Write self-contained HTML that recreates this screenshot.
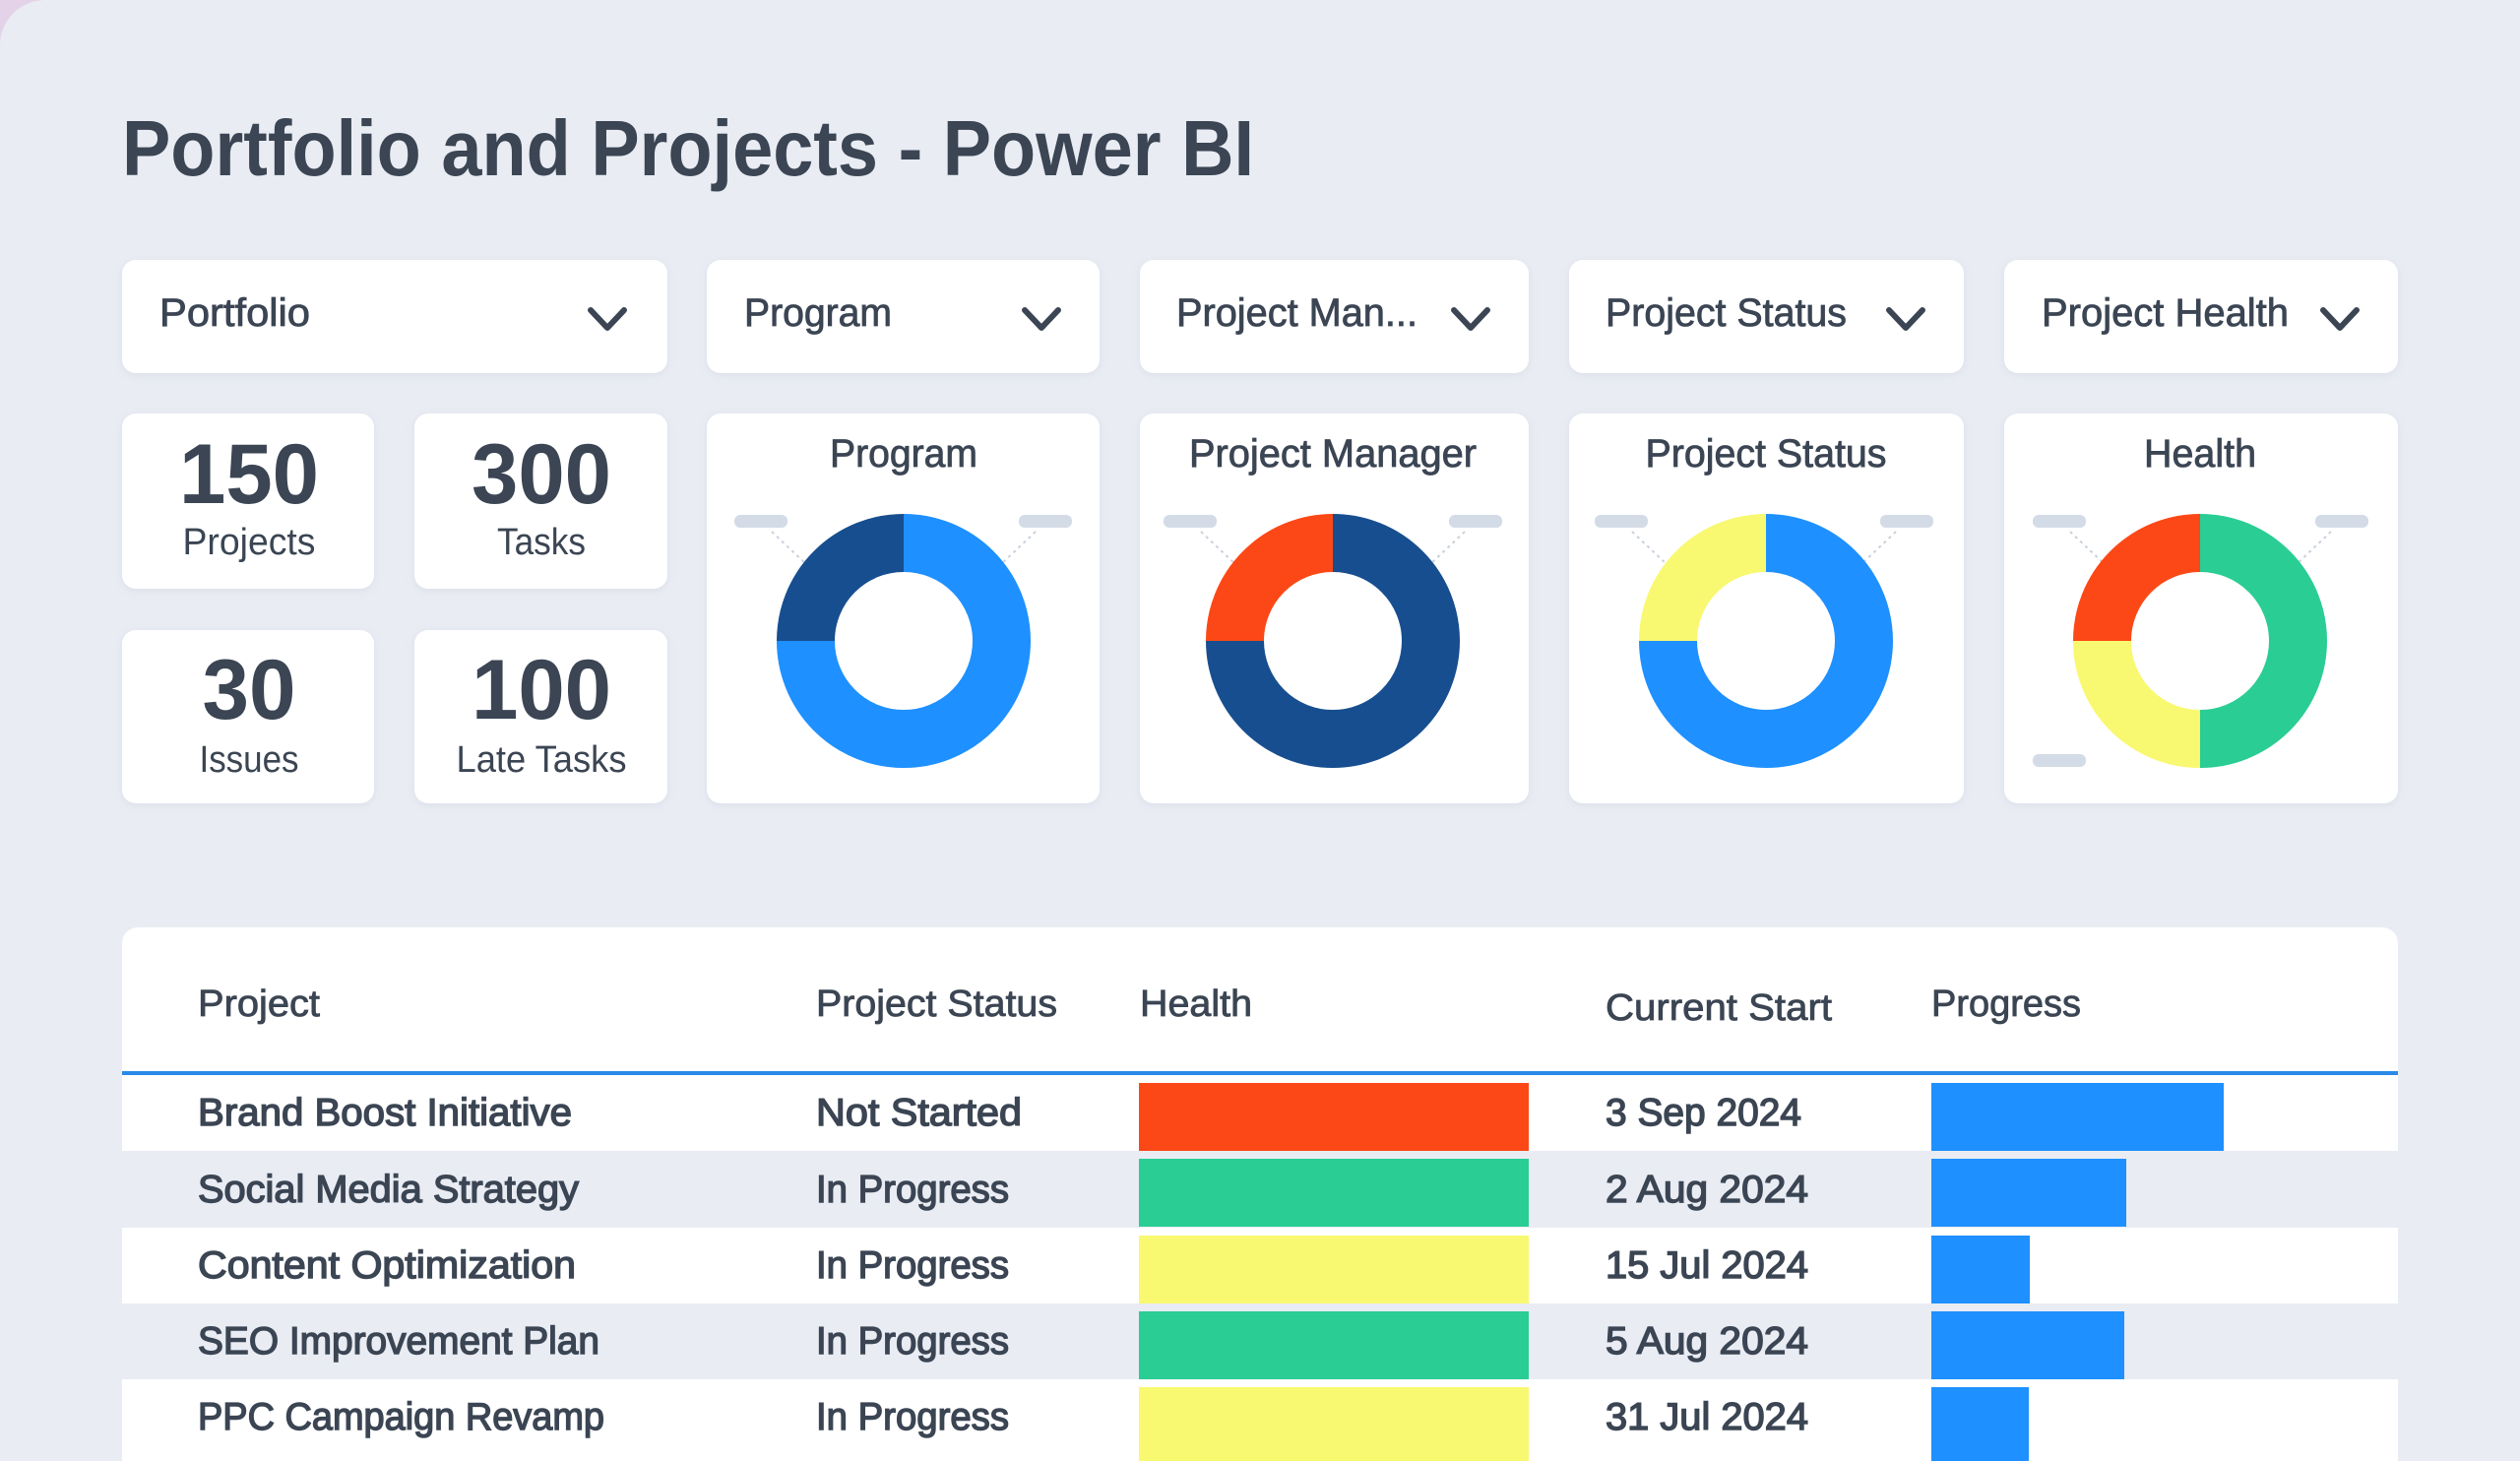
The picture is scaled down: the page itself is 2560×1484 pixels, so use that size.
<!DOCTYPE html>
<html><head><meta charset="utf-8"><style>
html,body{margin:0;padding:0;background:#e9ecf3;}
svg{display:block;}
text{font-family:"Liberation Sans",sans-serif;fill:#3b4553;}
.b{font-weight:bold;}
.m{stroke:#3b4553;stroke-width:0.8px;}
</style></head><body>
<svg width="2560" height="1484" viewBox="0 0 2560 1484" xmlns="http://www.w3.org/2000/svg">
<defs>
<filter id="sh" x="-5%" y="-5%" width="110%" height="115%"><feDropShadow dx="0" dy="2" stdDeviation="4" flood-color="#9aa6b8" flood-opacity="0.18"/></filter>
</defs>
<rect width="2560" height="1484" fill="#e4d3e8"/>
<path d="M0 46 A46 46 0 0 1 46 0 L2560 0 L2560 1484 L0 1484 Z" fill="#e9ecf3"/>

<text x="124" y="178" font-size="80" class="b" textLength="1150" lengthAdjust="spacingAndGlyphs">Portfolio and Projects - Power BI</text>

<g filter="url(#sh)" fill="#fff">
<rect x="124" y="264" width="554" height="115" rx="14"/>
<rect x="718" y="264" width="399" height="115" rx="14"/>
<rect x="1158" y="264" width="395" height="115" rx="14"/>
<rect x="1594" y="264" width="401" height="115" rx="14"/>
<rect x="2036" y="264" width="400" height="115" rx="14"/>
</g>
<g font-size="40" class="m">
<text x="162" y="331" textLength="153" lengthAdjust="spacingAndGlyphs">Portfolio</text>
<text x="756" y="331" textLength="150" lengthAdjust="spacingAndGlyphs">Program</text>
<text x="1195" y="331" textLength="245" lengthAdjust="spacingAndGlyphs">Project Man...</text>
<text x="1631" y="331" textLength="245" lengthAdjust="spacingAndGlyphs">Project Status</text>
<text x="2074" y="331" textLength="251" lengthAdjust="spacingAndGlyphs">Project Health</text>
</g>
<g fill="none" stroke="#3b4553" stroke-width="6" stroke-linecap="round" stroke-linejoin="round">
<path d="M600 315 L617 333 L634 315"/>
<path d="M1041 315 L1058 333 L1075 315"/>
<path d="M1477 315 L1494 333 L1511 315"/>
<path d="M1919 315 L1936 333 L1953 315"/>
<path d="M2360 315 L2377 333 L2394 315"/>
</g>

<g filter="url(#sh)" fill="#fff">
<rect x="124" y="420" width="256" height="178" rx="14"/>
<rect x="421" y="420" width="257" height="178" rx="14"/>
<rect x="124" y="640" width="256" height="176" rx="14"/>
<rect x="421" y="640" width="257" height="176" rx="14"/>
</g>
<g class="b" font-size="86" text-anchor="middle">
<text x="253" y="511" textLength="142" lengthAdjust="spacingAndGlyphs">150</text>
<text x="550" y="511" textLength="142" lengthAdjust="spacingAndGlyphs">300</text>
<text x="253" y="730" textLength="95" lengthAdjust="spacingAndGlyphs">30</text>
<text x="550" y="730" textLength="142" lengthAdjust="spacingAndGlyphs">100</text>
</g>
<g font-size="38" text-anchor="middle">
<text x="253" y="563" textLength="135" lengthAdjust="spacingAndGlyphs">Projects</text>
<text x="550" y="563" textLength="90" lengthAdjust="spacingAndGlyphs">Tasks</text>
<text x="253" y="784" textLength="101" lengthAdjust="spacingAndGlyphs">Issues</text>
<text x="550" y="784" textLength="173" lengthAdjust="spacingAndGlyphs">Late Tasks</text>
</g>

<g filter="url(#sh)" fill="#fff">
<rect x="718" y="420" width="399" height="396" rx="14"/>
<rect x="1158" y="420" width="395" height="396" rx="14"/>
<rect x="1594" y="420" width="401" height="396" rx="14"/>
<rect x="2036" y="420" width="400" height="396" rx="14"/>
</g>
<g font-size="40" text-anchor="middle" class="m">
<text x="918" y="474" textLength="150" lengthAdjust="spacingAndGlyphs">Program</text>
<text x="1354" y="474" textLength="292" lengthAdjust="spacingAndGlyphs">Project Manager</text>
<text x="1794" y="474" textLength="245" lengthAdjust="spacingAndGlyphs">Project Status</text>
<text x="2235" y="474" textLength="114" lengthAdjust="spacingAndGlyphs">Health</text>
</g>

<g fill="#d3dbe6">
<rect x="746" y="523" width="54" height="13" rx="6"/><rect x="1035" y="523" width="54" height="13" rx="6"/>
<rect x="1182" y="523" width="54" height="13" rx="6"/><rect x="1472" y="523" width="54" height="13" rx="6"/>
<rect x="1620" y="523" width="54" height="13" rx="6"/><rect x="1910" y="523" width="54" height="13" rx="6"/>
<rect x="2065" y="523" width="54" height="13" rx="6"/><rect x="2352" y="523" width="54" height="13" rx="6"/>
<rect x="2065" y="766" width="54" height="13" rx="6"/>
</g>
<g stroke="#c9d1dc" stroke-width="2" stroke-dasharray="3 4" fill="none">
<path d="M784 540 L820 574"/><path d="M1052 540 L1016 574"/>
<path d="M1220 540 L1256 574"/><path d="M1488 540 L1452 574"/>
<path d="M1658 540 L1694 574"/><path d="M1926 540 L1890 574"/>
<path d="M2103 540 L2139 574"/><path d="M2368 540 L2332 574"/>
</g>

<g fill="none" stroke-width="59">
<path d="M918 551.5 A99.5 99.5 0 1 1 818.5 651" stroke="#1e90ff"/>
<path d="M818.5 651 A99.5 99.5 0 0 1 918 551.5" stroke="#174e8f"/>
<path d="M1354 551.5 A99.5 99.5 0 1 1 1254.5 651" stroke="#174e8f"/>
<path d="M1254.5 651 A99.5 99.5 0 0 1 1354 551.5" stroke="#fc4816"/>
<path d="M1794 551.5 A99.5 99.5 0 1 1 1694.5 651" stroke="#1e90ff"/>
<path d="M1694.5 651 A99.5 99.5 0 0 1 1794 551.5" stroke="#f9f871"/>
<path d="M2235 551.5 A99.5 99.5 0 0 1 2235 750.5" stroke="#2acd94"/>
<path d="M2235 750.5 A99.5 99.5 0 0 1 2135.5 651" stroke="#f9f871"/>
<path d="M2135.5 651 A99.5 99.5 0 0 1 2235 551.5" stroke="#fc4816"/>
</g>

<path d="M124 958 A16 16 0 0 1 140 942 L2420 942 A16 16 0 0 1 2436 958 L2436 1484 L124 1484 Z" fill="#fff"/>
<rect x="124" y="1169" width="2312" height="78" fill="#e9ecf3"/>
<rect x="124" y="1324" width="2312" height="77" fill="#e9ecf3"/>
<rect x="124" y="1088" width="2312" height="4" fill="#2a8ae8"/>
<g font-size="38" class="m">
<text x="201" y="1032" textLength="124" lengthAdjust="spacingAndGlyphs">Project</text>
<text x="829" y="1032" textLength="245" lengthAdjust="spacingAndGlyphs">Project Status</text>
<text x="1158" y="1032" textLength="114" lengthAdjust="spacingAndGlyphs">Health</text>
<text x="1631" y="1036" textLength="230" lengthAdjust="spacingAndGlyphs">Current Start</text>
<text x="1962" y="1032" textLength="152" lengthAdjust="spacingAndGlyphs">Progress</text>
</g>
<rect x="1157" y="1100" width="396" height="69" fill="#fc4816"/>
<rect x="1157" y="1177" width="396" height="69" fill="#2acd94"/>
<rect x="1157" y="1255" width="396" height="69" fill="#f9f871"/>
<rect x="1157" y="1332" width="396" height="69" fill="#2acd94"/>
<rect x="1157" y="1409" width="396" height="75" fill="#f9f871"/>
<g fill="#1e90ff">
<rect x="1962" y="1100" width="297" height="69"/>
<rect x="1962" y="1177" width="198" height="69"/>
<rect x="1962" y="1255" width="100" height="69"/>
<rect x="1962" y="1332" width="196" height="69"/>
<rect x="1962" y="1409" width="99" height="75"/>
</g>
<g font-size="39" class="m" style="stroke-width:1.4px">
<text x="201" y="1143" textLength="380" lengthAdjust="spacingAndGlyphs">Brand Boost Initiative</text>
<text x="829" y="1143" textLength="209" lengthAdjust="spacingAndGlyphs">Not Started</text>
<text x="1631" y="1143" textLength="199" lengthAdjust="spacingAndGlyphs">3 Sep 2024</text>
<text x="201" y="1221" textLength="387" lengthAdjust="spacingAndGlyphs">Social Media Strategy</text>
<text x="829" y="1221" textLength="196" lengthAdjust="spacingAndGlyphs">In Progress</text>
<text x="1631" y="1221" textLength="206" lengthAdjust="spacingAndGlyphs">2 Aug 2024</text>
<text x="201" y="1298" textLength="384" lengthAdjust="spacingAndGlyphs">Content Optimization</text>
<text x="829" y="1298" textLength="196" lengthAdjust="spacingAndGlyphs">In Progress</text>
<text x="1631" y="1298" textLength="206" lengthAdjust="spacingAndGlyphs">15 Jul 2024</text>
<text x="201" y="1375" textLength="408" lengthAdjust="spacingAndGlyphs">SEO Improvement Plan</text>
<text x="829" y="1375" textLength="196" lengthAdjust="spacingAndGlyphs">In Progress</text>
<text x="1631" y="1375" textLength="206" lengthAdjust="spacingAndGlyphs">5 Aug 2024</text>
<text x="201" y="1452" textLength="413" lengthAdjust="spacingAndGlyphs">PPC Campaign Revamp</text>
<text x="829" y="1452" textLength="196" lengthAdjust="spacingAndGlyphs">In Progress</text>
<text x="1631" y="1452" textLength="206" lengthAdjust="spacingAndGlyphs">31 Jul 2024</text>
</g>
</svg>
</body></html>
